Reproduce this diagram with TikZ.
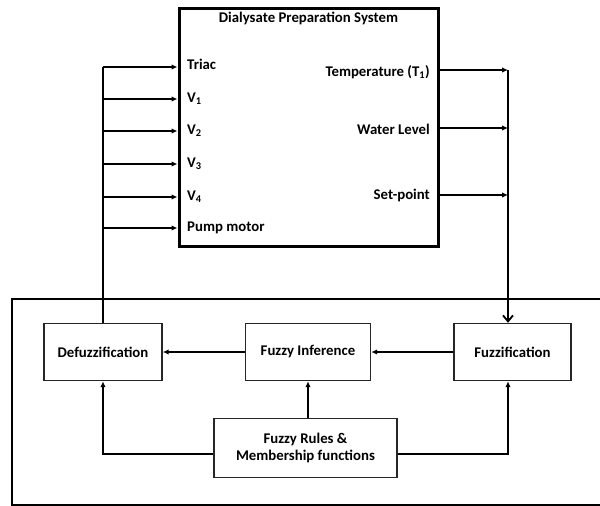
\documentclass[tikz,border=0pt]{standalone}
\usepackage{fontspec}
\setmainfont{Carlito}
\usetikzlibrary{arrows.meta}
\begin{document}
\begin{tikzpicture}[x=1pt,y=-1pt,
  every node/.style={font=\fontsize{14.8}{17.5}\selectfont\bfseries},
  lbl/.style={inner sep=0pt},
  blk/.style={draw=black!85, line width=1.4pt, inner sep=0pt},
  conn/.style={line width=1.8pt},
  arr/.style={conn,-{Latex[length=6pt,width=5.5pt]}},
  arrd/.style={conn,-{Straight Barb[length=6pt,width=10pt,line width=1.8pt]}}]
\useasboundingbox (0,0) rectangle (600,506);
% system box
\node[draw, line width=3pt, minimum width=259pt, minimum height=238pt, inner sep=0pt] (sys) at (308.5,127) {};
\node[lbl] (title) at (308.5,18) {Dialysate Preparation System};
% inputs
\node[lbl, anchor=west] (triac) at (187,64) {Triac};
\node[lbl, anchor=west] (v1) at (187,99) {V\textsubscript{1}};
\node[lbl, anchor=west] (v2) at (187,131) {V\textsubscript{2}};
\node[lbl, anchor=west] (v3) at (187,164) {V\textsubscript{3}};
\node[lbl, anchor=west] (v4) at (187,197) {V\textsubscript{4}};
\node[lbl, anchor=west] (pump) at (187,228) {Pump motor};
% outputs
\node[lbl, anchor=east] (temp) at (430,72) {Temperature (T\textsubscript{1})};
\node[lbl, anchor=east] (water) at (430,129) {Water Level};
\node[lbl, anchor=east] (setp) at (430,195) {Set-point};
% outer controller box
\node[draw, line width=2.2pt, minimum width=600pt, minimum height=206pt, inner sep=0pt, anchor=north west] (ctrl) at (10.5,298) {};
% blocks
\node[blk, minimum width=118pt, minimum height=57pt] (defuz) at (103,352) {Defuzzification};
\node[blk, minimum width=125pt, minimum height=57pt] (infer) at (308,352) {Fuzzy Inference};
\node[blk, minimum width=117pt, minimum height=57pt] (fuzz) at (512.5,352) {Fuzzification};
\node[blk, minimum width=183pt, minimum height=59pt, align=center] (rules) at (305.5,448) {Fuzzy Rules \&\\Membership functions};
% bus coordinates
\coordinate (lt) at (103,67);
\coordinate (l1) at (103,99);
\coordinate (l2) at (103,131);
\coordinate (l3) at (103,164);
\coordinate (l4) at (103,197);
\coordinate (l5) at (103,228);
\coordinate (r0) at (508,70);
\coordinate (r1) at (508,128);
\coordinate (r2) at (508,195);
% left bus
\draw[conn] (defuz.north) -- (lt);
\draw[arr] (lt) -- (sys.west |- lt);
\draw[arr] (l1) -- (sys.west |- l1);
\draw[arr] (l2) -- (sys.west |- l2);
\draw[arr] (l3) -- (sys.west |- l3);
\draw[arr] (l4) -- (sys.west |- l4);
\draw[arr] (l5) -- (sys.west |- l5);
% right bus
\draw[arr] (sys.east |- r0) -- (r0);
\draw[arr] (sys.east |- r1) -- (r1);
\draw[arr] (sys.east |- r2) -- (r2);
\draw[arrd] (r0) -- (r0 |- fuzz.north);
% internal flow
\draw[arr] (fuzz.west) -- (infer.east);
\draw[arr] (infer.west) -- (defuz.east);
\draw[arr] (rules.north -| infer.south) -- (infer.south);
\draw[arr] (rules.west |- 0,454) -| (defuz.south);
\draw[arr] (rules.east |- 0,454) -| (r0 |- fuzz.south);
\end{tikzpicture}
\end{document}
